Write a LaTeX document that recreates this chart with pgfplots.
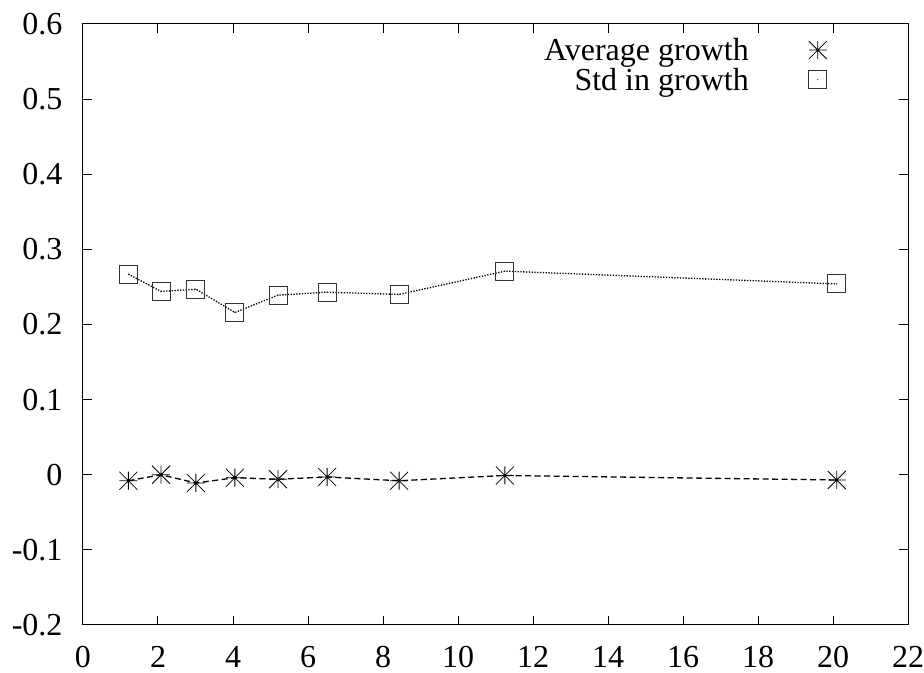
\documentclass[border=0pt]{standalone}
\usepackage{fontspec}
\setmainfont{Liberation Serif}
\usepackage{pgfplots}
\pgfplotsset{compat=1.18}

\pgfdeclareplotmark{gpstar}{%
  \pgfpathmoveto{\pgfqpoint{-\pgfplotmarksize}{0pt}}\pgfpathlineto{\pgfqpoint{\pgfplotmarksize}{0pt}}%
  \pgfpathmoveto{\pgfqpoint{0pt}{-\pgfplotmarksize}}\pgfpathlineto{\pgfqpoint{0pt}{\pgfplotmarksize}}%
  \pgfpathmoveto{\pgfqpoint{-\pgfplotmarksize}{-\pgfplotmarksize}}\pgfpathlineto{\pgfqpoint{\pgfplotmarksize}{\pgfplotmarksize}}%
  \pgfpathmoveto{\pgfqpoint{-\pgfplotmarksize}{\pgfplotmarksize}}\pgfpathlineto{\pgfqpoint{\pgfplotmarksize}{-\pgfplotmarksize}}%
  \pgfusepathqstroke}
\pgfdeclareplotmark{gpbox}{%
  \pgfpathrectangle{\pgfqpoint{-\pgfplotmarksize}{-\pgfplotmarksize}}{\pgfqpoint{2\pgfplotmarksize}{2\pgfplotmarksize}}%
  \pgfusepathqstroke
  \pgfpathcircle{\pgfpointorigin}{0.7pt}\pgfusepathqfill}

\pgfplotstableread{
x      avg     std
1.21  -0.008  0.267
2.08   0.000  0.244
3.01  -0.011  0.247
4.05  -0.004  0.216
5.20  -0.006  0.239
6.51  -0.003  0.243
8.43  -0.008  0.240
11.25 -0.001  0.271
20.10 -0.007  0.254
}\growth

\begin{document}
\begin{tikzpicture}
\begin{axis}[
  scale only axis, width=825pt, height=601pt,
  xmin=0, xmax=22, ymin=-0.2, ymax=0.6,
  xtick={0,2,4,6,8,10,12,14,16,18,20,22},
  ytick={-0.2,-0.1,0,0.1,0.2,0.3,0.4,0.5,0.6},
  tick align=inside, major tick length=9pt,
  tick style={line width=1pt, black},
  axis line style={line width=1pt},
  /pgf/number format/assume math mode=true,
  ticklabel style={font=\fontsize{32}{38}\selectfont},
  xticklabel style={yshift=-18pt},
  yticklabel style={xshift=-17pt, /pgf/number format/fixed, /pgf/number format/precision=1},
  legend cell align=right,
  legend plot pos=right,
  legend image code/.code={\draw[#1] plot coordinates {(0pt,0pt)};},
  legend style={draw=none, fill=none, inner sep=0pt,
    at={(0.9018,0.9767)}, anchor=north east,
    font=\fontsize{32}{38}\selectfont,
    nodes={inner sep=0pt}, row sep=6pt, column sep=60pt},
]
\addplot[black, line width=1.3pt, dash pattern=on 6pt off 3.5pt,
  mark=gpstar, mark size=9pt, mark options={solid, line width=0.8pt}]
  table[x=x, y=avg] {\growth};
\addlegendentry{Average growth}
\addplot[black, line width=1.3pt, dash pattern=on 1.3pt off 1.5pt,
  mark=gpbox, mark size=9pt, mark options={solid, line width=0.9pt, black!80}]
  table[x=x, y=std] {\growth};
\addlegendentry{Std in growth}
\end{axis}
\pgfresetboundingbox
\path ([shift={(-83pt,-48pt)}]current axis.south west) rectangle ([shift={(16pt,24pt)}]current axis.north east);
\end{tikzpicture}
\end{document}
